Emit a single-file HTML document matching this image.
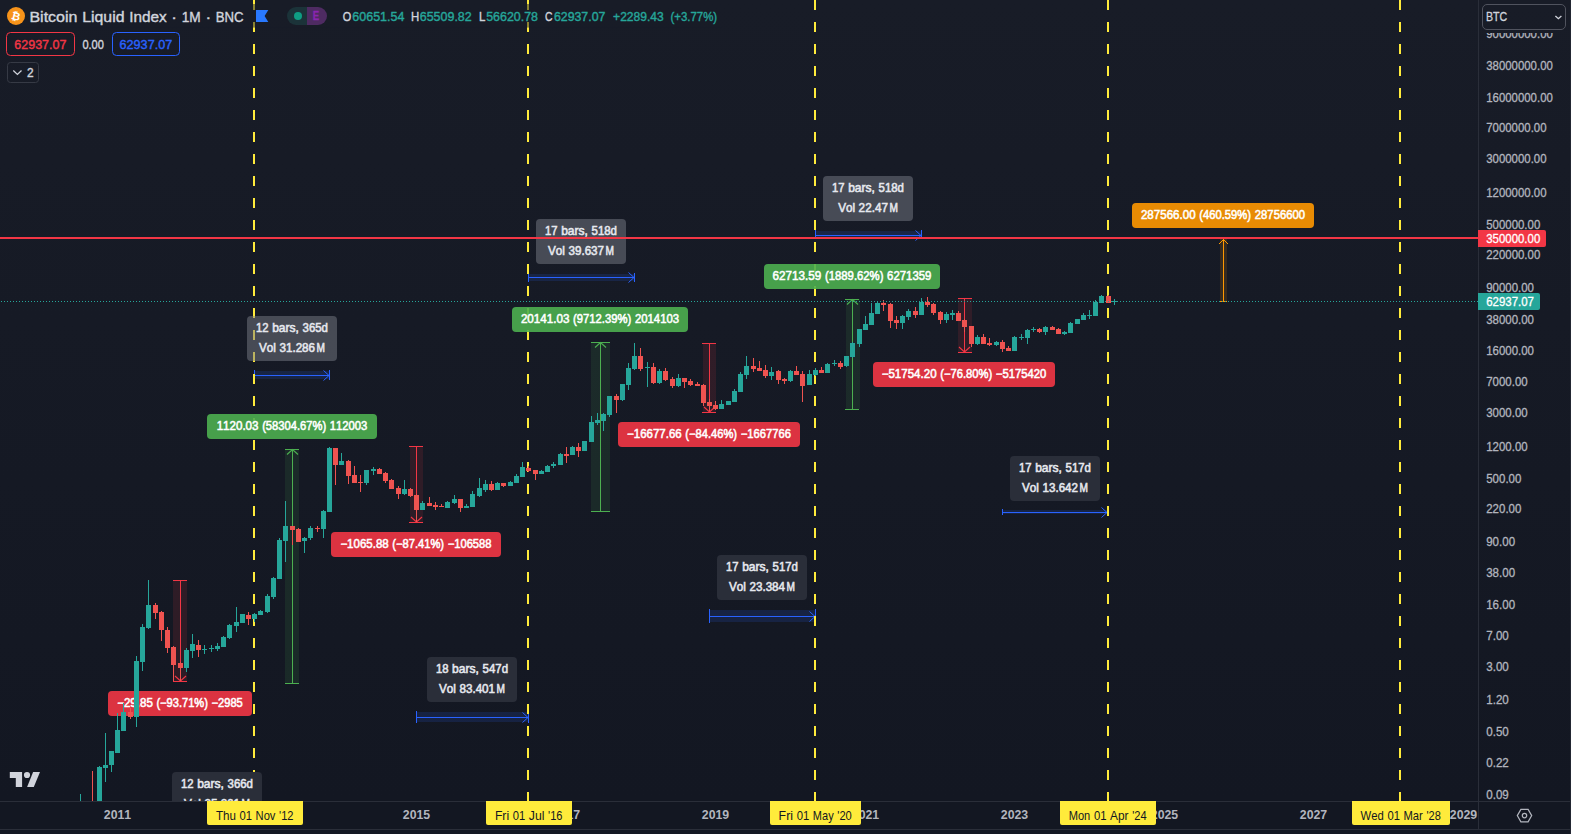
<!DOCTYPE html>
<html lang="en"><head><meta charset="utf-8"><title>Bitcoin Liquid Index chart</title>
<style>
html,body{margin:0;padding:0;background:#131722;}
body{width:1571px;height:834px;overflow:hidden;position:relative;font-family:"Liberation Sans", sans-serif;}
svg{position:absolute;left:0;top:0;display:block;font-family:"Liberation Sans", sans-serif;}
text{white-space:pre;font-kerning:none;}
</style></head><body>
<svg width="1571" height="834" viewBox="0 0 1571 834">
<defs><clipPath id="pane"><rect x="0" y="0" width="1478" height="801"/></clipPath><linearGradient id="bgg" gradientUnits="userSpaceOnUse" x1="0" y1="0" x2="0" y2="801"><stop offset="0" stop-color="#181c27"/><stop offset="1" stop-color="#131722"/></linearGradient></defs>
<rect x="0" y="0" width="1571" height="834" fill="#131722"/>
<rect x="0" y="0" width="1571" height="801" fill="url(#bgg)"/>
<g clip-path="url(#pane)">
<rect x="173" y="580" width="14" height="101" fill="#f23645" fill-opacity="0.12"/>
<g stroke="#f23645" stroke-width="1" fill="none">
<path d="M173 580.5H187M173 681.5H187M180.5 580V681"/>
<path stroke-width="1.1" d="M175.0 676L180.5 681L186.0 676"/>
</g>
<rect x="285" y="449" width="14" height="234" fill="#4caf50" fill-opacity="0.12"/>
<g stroke="#4caf50" stroke-width="1" fill="none">
<path d="M285 449.5H299M285 683.5H299M292.5 449V683"/>
<path stroke-width="1.1" d="M287.0 454.5L292.5 449.5L298.0 454.5"/>
</g>
<rect x="410" y="446" width="13" height="76" fill="#f23645" fill-opacity="0.12"/>
<g stroke="#f23645" stroke-width="1" fill="none">
<path d="M409 446.5H423M409 522.5H423M416.5 446V522"/>
<path stroke-width="1.1" d="M411.0 517L416.5 522L422.0 517"/>
</g>
<rect x="591" y="342" width="19" height="169" fill="#4caf50" fill-opacity="0.12"/>
<g stroke="#4caf50" stroke-width="1" fill="none">
<path d="M591 342.5H610M591 511.5H610M600.5 342V511"/>
<path stroke-width="1.1" d="M595.0 347.5L600.5 342.5L606.0 347.5"/>
</g>
<rect x="703" y="343" width="13" height="69" fill="#f23645" fill-opacity="0.12"/>
<g stroke="#f23645" stroke-width="1" fill="none">
<path d="M702 343.5H716M702 412.5H716M709.5 343V412"/>
<path stroke-width="1.1" d="M704.0 407L709.5 412L715.0 407"/>
</g>
<rect x="846" y="299" width="14" height="110" fill="#4caf50" fill-opacity="0.12"/>
<g stroke="#4caf50" stroke-width="1" fill="none">
<path d="M845 299.5H859M845 409.5H859M852.5 299V409"/>
<path stroke-width="1.1" d="M847.0 304.5L852.5 299.5L858.0 304.5"/>
</g>
<rect x="958" y="298" width="14" height="54" fill="#f23645" fill-opacity="0.12"/>
<g stroke="#f23645" stroke-width="1" fill="none">
<path d="M958 298.5H972M958 352.5H972M964.5 298V352"/>
<path stroke-width="1.1" d="M959.0 347L964.5 352L970.0 347"/>
</g>
<rect x="254" y="371" width="75" height="8" fill="#2962ff" fill-opacity="0.15"/>
<g stroke="#2962ff" stroke-width="1" fill="none"><path d="M254.5 370V380M329.5 370V380M254 375.5H329M323.5 370.5L329 375.5L323.5 380.5"/></g>
<rect x="416" y="712" width="112" height="10" fill="#2962ff" fill-opacity="0.15"/>
<g stroke="#2962ff" stroke-width="1" fill="none"><path d="M416.5 711V723M528.5 711V723M416 717.5H528M522.5 712.5L528 717.5L522.5 722.5"/></g>
<rect x="528" y="274" width="106" height="7" fill="#2962ff" fill-opacity="0.15"/>
<g stroke="#2962ff" stroke-width="1" fill="none"><path d="M528.5 273V282M634.5 273V282M528 277.5H634M628.5 272.5L634 277.5L628.5 282.5"/></g>
<rect x="709" y="610" width="106" height="12" fill="#2962ff" fill-opacity="0.15"/>
<g stroke="#2962ff" stroke-width="1" fill="none"><path d="M709.5 609V623M815.5 609V623M709 616.5H815M809.5 611.5L815 616.5L809.5 621.5"/></g>
<rect x="815" y="231" width="106" height="7" fill="#2962ff" fill-opacity="0.15"/>
<g stroke="#2962ff" stroke-width="1" fill="none"><path d="M815.5 230V239M921.5 230V239M815 235.5H921M915.5 230.5L921 235.5L915.5 240.5"/></g>
<rect x="1002" y="510" width="105" height="4" fill="#2962ff" fill-opacity="0.15"/>
<g stroke="#2962ff" stroke-width="1" fill="none"><path d="M1002.5 509V515M1107.5 509V515M1002 512.5H1107M1101.5 507.5L1107 512.5L1101.5 517.5"/></g>
<g fill="#ffeb3b" shape-rendering="crispEdges">
<rect x="253" y="0" width="2" height="10"/>
<rect x="253" y="22" width="2" height="10"/>
<rect x="253" y="44" width="2" height="10"/>
<rect x="253" y="66" width="2" height="10"/>
<rect x="253" y="88" width="2" height="10"/>
<rect x="253" y="110" width="2" height="10"/>
<rect x="253" y="132" width="2" height="10"/>
<rect x="253" y="154" width="2" height="10"/>
<rect x="253" y="176" width="2" height="10"/>
<rect x="253" y="198" width="2" height="10"/>
<rect x="253" y="220" width="2" height="10"/>
<rect x="253" y="242" width="2" height="10"/>
<rect x="253" y="264" width="2" height="10"/>
<rect x="253" y="286" width="2" height="10"/>
<rect x="253" y="308" width="2" height="10"/>
<rect x="253" y="330" width="2" height="10"/>
<rect x="253" y="352" width="2" height="10"/>
<rect x="253" y="374" width="2" height="10"/>
<rect x="253" y="396" width="2" height="10"/>
<rect x="253" y="418" width="2" height="10"/>
<rect x="253" y="440" width="2" height="10"/>
<rect x="253" y="462" width="2" height="10"/>
<rect x="253" y="484" width="2" height="10"/>
<rect x="253" y="506" width="2" height="10"/>
<rect x="253" y="528" width="2" height="10"/>
<rect x="253" y="550" width="2" height="10"/>
<rect x="253" y="572" width="2" height="10"/>
<rect x="253" y="594" width="2" height="10"/>
<rect x="253" y="616" width="2" height="10"/>
<rect x="253" y="638" width="2" height="10"/>
<rect x="253" y="660" width="2" height="10"/>
<rect x="253" y="682" width="2" height="10"/>
<rect x="253" y="704" width="2" height="10"/>
<rect x="253" y="726" width="2" height="10"/>
<rect x="253" y="748" width="2" height="10"/>
<rect x="253" y="770" width="2" height="10"/>
<rect x="253" y="792" width="2" height="10"/>
<rect x="527" y="0" width="2" height="10"/>
<rect x="527" y="22" width="2" height="10"/>
<rect x="527" y="44" width="2" height="10"/>
<rect x="527" y="66" width="2" height="10"/>
<rect x="527" y="88" width="2" height="10"/>
<rect x="527" y="110" width="2" height="10"/>
<rect x="527" y="132" width="2" height="10"/>
<rect x="527" y="154" width="2" height="10"/>
<rect x="527" y="176" width="2" height="10"/>
<rect x="527" y="198" width="2" height="10"/>
<rect x="527" y="220" width="2" height="10"/>
<rect x="527" y="242" width="2" height="10"/>
<rect x="527" y="264" width="2" height="10"/>
<rect x="527" y="286" width="2" height="10"/>
<rect x="527" y="308" width="2" height="10"/>
<rect x="527" y="330" width="2" height="10"/>
<rect x="527" y="352" width="2" height="10"/>
<rect x="527" y="374" width="2" height="10"/>
<rect x="527" y="396" width="2" height="10"/>
<rect x="527" y="418" width="2" height="10"/>
<rect x="527" y="440" width="2" height="10"/>
<rect x="527" y="462" width="2" height="10"/>
<rect x="527" y="484" width="2" height="10"/>
<rect x="527" y="506" width="2" height="10"/>
<rect x="527" y="528" width="2" height="10"/>
<rect x="527" y="550" width="2" height="10"/>
<rect x="527" y="572" width="2" height="10"/>
<rect x="527" y="594" width="2" height="10"/>
<rect x="527" y="616" width="2" height="10"/>
<rect x="527" y="638" width="2" height="10"/>
<rect x="527" y="660" width="2" height="10"/>
<rect x="527" y="682" width="2" height="10"/>
<rect x="527" y="704" width="2" height="10"/>
<rect x="527" y="726" width="2" height="10"/>
<rect x="527" y="748" width="2" height="10"/>
<rect x="527" y="770" width="2" height="10"/>
<rect x="527" y="792" width="2" height="10"/>
<rect x="814" y="0" width="2" height="10"/>
<rect x="814" y="22" width="2" height="10"/>
<rect x="814" y="44" width="2" height="10"/>
<rect x="814" y="66" width="2" height="10"/>
<rect x="814" y="88" width="2" height="10"/>
<rect x="814" y="110" width="2" height="10"/>
<rect x="814" y="132" width="2" height="10"/>
<rect x="814" y="154" width="2" height="10"/>
<rect x="814" y="176" width="2" height="10"/>
<rect x="814" y="198" width="2" height="10"/>
<rect x="814" y="220" width="2" height="10"/>
<rect x="814" y="242" width="2" height="10"/>
<rect x="814" y="264" width="2" height="10"/>
<rect x="814" y="286" width="2" height="10"/>
<rect x="814" y="308" width="2" height="10"/>
<rect x="814" y="330" width="2" height="10"/>
<rect x="814" y="352" width="2" height="10"/>
<rect x="814" y="374" width="2" height="10"/>
<rect x="814" y="396" width="2" height="10"/>
<rect x="814" y="418" width="2" height="10"/>
<rect x="814" y="440" width="2" height="10"/>
<rect x="814" y="462" width="2" height="10"/>
<rect x="814" y="484" width="2" height="10"/>
<rect x="814" y="506" width="2" height="10"/>
<rect x="814" y="528" width="2" height="10"/>
<rect x="814" y="550" width="2" height="10"/>
<rect x="814" y="572" width="2" height="10"/>
<rect x="814" y="594" width="2" height="10"/>
<rect x="814" y="616" width="2" height="10"/>
<rect x="814" y="638" width="2" height="10"/>
<rect x="814" y="660" width="2" height="10"/>
<rect x="814" y="682" width="2" height="10"/>
<rect x="814" y="704" width="2" height="10"/>
<rect x="814" y="726" width="2" height="10"/>
<rect x="814" y="748" width="2" height="10"/>
<rect x="814" y="770" width="2" height="10"/>
<rect x="814" y="792" width="2" height="10"/>
<rect x="1107" y="0" width="2" height="10"/>
<rect x="1107" y="22" width="2" height="10"/>
<rect x="1107" y="44" width="2" height="10"/>
<rect x="1107" y="66" width="2" height="10"/>
<rect x="1107" y="88" width="2" height="10"/>
<rect x="1107" y="110" width="2" height="10"/>
<rect x="1107" y="132" width="2" height="10"/>
<rect x="1107" y="154" width="2" height="10"/>
<rect x="1107" y="176" width="2" height="10"/>
<rect x="1107" y="198" width="2" height="10"/>
<rect x="1107" y="220" width="2" height="10"/>
<rect x="1107" y="242" width="2" height="10"/>
<rect x="1107" y="264" width="2" height="10"/>
<rect x="1107" y="286" width="2" height="10"/>
<rect x="1107" y="308" width="2" height="10"/>
<rect x="1107" y="330" width="2" height="10"/>
<rect x="1107" y="352" width="2" height="10"/>
<rect x="1107" y="374" width="2" height="10"/>
<rect x="1107" y="396" width="2" height="10"/>
<rect x="1107" y="418" width="2" height="10"/>
<rect x="1107" y="440" width="2" height="10"/>
<rect x="1107" y="462" width="2" height="10"/>
<rect x="1107" y="484" width="2" height="10"/>
<rect x="1107" y="506" width="2" height="10"/>
<rect x="1107" y="528" width="2" height="10"/>
<rect x="1107" y="550" width="2" height="10"/>
<rect x="1107" y="572" width="2" height="10"/>
<rect x="1107" y="594" width="2" height="10"/>
<rect x="1107" y="616" width="2" height="10"/>
<rect x="1107" y="638" width="2" height="10"/>
<rect x="1107" y="660" width="2" height="10"/>
<rect x="1107" y="682" width="2" height="10"/>
<rect x="1107" y="704" width="2" height="10"/>
<rect x="1107" y="726" width="2" height="10"/>
<rect x="1107" y="748" width="2" height="10"/>
<rect x="1107" y="770" width="2" height="10"/>
<rect x="1107" y="792" width="2" height="10"/>
<rect x="1399" y="0" width="2" height="10"/>
<rect x="1399" y="22" width="2" height="10"/>
<rect x="1399" y="44" width="2" height="10"/>
<rect x="1399" y="66" width="2" height="10"/>
<rect x="1399" y="88" width="2" height="10"/>
<rect x="1399" y="110" width="2" height="10"/>
<rect x="1399" y="132" width="2" height="10"/>
<rect x="1399" y="154" width="2" height="10"/>
<rect x="1399" y="176" width="2" height="10"/>
<rect x="1399" y="198" width="2" height="10"/>
<rect x="1399" y="220" width="2" height="10"/>
<rect x="1399" y="242" width="2" height="10"/>
<rect x="1399" y="264" width="2" height="10"/>
<rect x="1399" y="286" width="2" height="10"/>
<rect x="1399" y="308" width="2" height="10"/>
<rect x="1399" y="330" width="2" height="10"/>
<rect x="1399" y="352" width="2" height="10"/>
<rect x="1399" y="374" width="2" height="10"/>
<rect x="1399" y="396" width="2" height="10"/>
<rect x="1399" y="418" width="2" height="10"/>
<rect x="1399" y="440" width="2" height="10"/>
<rect x="1399" y="462" width="2" height="10"/>
<rect x="1399" y="484" width="2" height="10"/>
<rect x="1399" y="506" width="2" height="10"/>
<rect x="1399" y="528" width="2" height="10"/>
<rect x="1399" y="550" width="2" height="10"/>
<rect x="1399" y="572" width="2" height="10"/>
<rect x="1399" y="594" width="2" height="10"/>
<rect x="1399" y="616" width="2" height="10"/>
<rect x="1399" y="638" width="2" height="10"/>
<rect x="1399" y="660" width="2" height="10"/>
<rect x="1399" y="682" width="2" height="10"/>
<rect x="1399" y="704" width="2" height="10"/>
<rect x="1399" y="726" width="2" height="10"/>
<rect x="1399" y="748" width="2" height="10"/>
<rect x="1399" y="770" width="2" height="10"/>
<rect x="1399" y="792" width="2" height="10"/>
</g>
<rect x="172" y="772" width="90" height="45" rx="4" fill="#2a2e39"/>
<g font-size="12" fill="#e6e8ee" font-weight="400" stroke="#e6e8ee" stroke-width="0.55"><text transform="translate(181.05 787.6) scale(0.9374 1)">12</text><text transform="translate(197.16 787.6) scale(1.0038 1)">bars,</text><text transform="translate(227.53 787.6) scale(0.9522 1)">366d</text></g>
<g font-size="12" fill="#e6e8ee" font-weight="400" stroke="#e6e8ee" stroke-width="0.55"><text transform="translate(184.00 807.6) scale(0.9745 1)">Vol</text><text transform="translate(204.49 807.6) scale(0.9694 1)">35.261</text><text transform="translate(241.55 807.6) scale(0.8448 1)">M</text></g>
<rect x="247" y="316" width="90" height="45" rx="4" fill="#787b86" fill-opacity="0.5"/>
<g font-size="12" fill="#e6e8ee" font-weight="400" stroke="#e6e8ee" stroke-width="0.55"><text transform="translate(256.05 331.6) scale(0.9374 1)">12</text><text transform="translate(272.16 331.6) scale(1.0038 1)">bars,</text><text transform="translate(302.53 331.6) scale(0.9522 1)">365d</text></g>
<g font-size="12" fill="#e6e8ee" font-weight="400" stroke="#e6e8ee" stroke-width="0.55"><text transform="translate(259.00 351.6) scale(0.9745 1)">Vol</text><text transform="translate(279.49 351.6) scale(0.9694 1)">31.286</text><text transform="translate(316.55 351.6) scale(0.8448 1)">M</text></g>
<rect x="427" y="657" width="90" height="45" rx="4" fill="#2a2e39"/>
<g font-size="12" fill="#e6e8ee" font-weight="400" stroke="#e6e8ee" stroke-width="0.55"><text transform="translate(435.95 672.6) scale(0.9400 1)">18</text><text transform="translate(452.10 672.6) scale(1.0066 1)">bars,</text><text transform="translate(482.56 672.6) scale(0.9549 1)">547d</text></g>
<g font-size="12" fill="#e6e8ee" font-weight="400" stroke="#e6e8ee" stroke-width="0.55"><text transform="translate(439.00 692.6) scale(0.9745 1)">Vol</text><text transform="translate(459.49 692.6) scale(0.9694 1)">83.401</text><text transform="translate(496.55 692.6) scale(0.8448 1)">M</text></g>
<rect x="536" y="219" width="90" height="45" rx="4" fill="#787b86" fill-opacity="0.5"/>
<g font-size="12" fill="#e6e8ee" font-weight="400" stroke="#e6e8ee" stroke-width="0.55"><text transform="translate(545.05 234.6) scale(0.9374 1)">17</text><text transform="translate(561.16 234.6) scale(1.0038 1)">bars,</text><text transform="translate(591.53 234.6) scale(0.9522 1)">518d</text></g>
<g font-size="12" fill="#e6e8ee" font-weight="400" stroke="#e6e8ee" stroke-width="0.55"><text transform="translate(548.00 254.6) scale(0.9745 1)">Vol</text><text transform="translate(568.49 254.6) scale(0.9694 1)">39.637</text><text transform="translate(605.55 254.6) scale(0.8448 1)">M</text></g>
<rect x="717" y="555" width="90" height="45" rx="4" fill="#2a2e39"/>
<g font-size="12" fill="#e6e8ee" font-weight="400" stroke="#e6e8ee" stroke-width="0.55"><text transform="translate(726.05 570.6) scale(0.9374 1)">17</text><text transform="translate(742.16 570.6) scale(1.0038 1)">bars,</text><text transform="translate(772.53 570.6) scale(0.9522 1)">517d</text></g>
<g font-size="12" fill="#e6e8ee" font-weight="400" stroke="#e6e8ee" stroke-width="0.55"><text transform="translate(729.00 590.6) scale(0.9745 1)">Vol</text><text transform="translate(749.49 590.6) scale(0.9694 1)">23.384</text><text transform="translate(786.55 590.6) scale(0.8448 1)">M</text></g>
<rect x="823" y="176" width="90" height="45" rx="4" fill="#787b86" fill-opacity="0.5"/>
<g font-size="12" fill="#e6e8ee" font-weight="400" stroke="#e6e8ee" stroke-width="0.55"><text transform="translate(832.05 191.6) scale(0.9374 1)">17</text><text transform="translate(848.16 191.6) scale(1.0038 1)">bars,</text><text transform="translate(878.53 191.6) scale(0.9522 1)">518d</text></g>
<g font-size="12" fill="#e6e8ee" font-weight="400" stroke="#e6e8ee" stroke-width="0.55"><text transform="translate(838.15 211.6) scale(0.9736 1)">Vol</text><text transform="translate(858.62 211.6) scale(0.9760 1)">22.47</text><text transform="translate(889.41 211.6) scale(0.8440 1)">M</text></g>
<rect x="1010" y="456" width="90" height="45" rx="4" fill="#2a2e39"/>
<g font-size="12" fill="#e6e8ee" font-weight="400" stroke="#e6e8ee" stroke-width="0.55"><text transform="translate(1019.05 471.6) scale(0.9374 1)">17</text><text transform="translate(1035.16 471.6) scale(1.0038 1)">bars,</text><text transform="translate(1065.53 471.6) scale(0.9522 1)">517d</text></g>
<g font-size="12" fill="#e6e8ee" font-weight="400" stroke="#e6e8ee" stroke-width="0.55"><text transform="translate(1022.00 491.6) scale(0.9745 1)">Vol</text><text transform="translate(1042.49 491.6) scale(0.9694 1)">13.642</text><text transform="translate(1079.55 491.6) scale(0.8448 1)">M</text></g>
<rect x="0" y="237" width="1478" height="2" fill="#f23645" shape-rendering="crispEdges"/>
<rect x="1220" y="239" width="7" height="62" fill="#ff9800" fill-opacity="0.14"/>
<g stroke="#ff9800" stroke-width="1" fill="none"><path d="M1223.5 239V301M1220 301.5H1227M1219 244L1223.5 239.5L1228 244"/></g>
<rect x="108" y="691" width="144" height="25" rx="4" fill="#f23645" fill-opacity="0.9"/>
<g font-size="12" fill="#ffffff" font-weight="400" stroke="#ffffff" stroke-width="0.55"><text transform="translate(117.20 706.6) scale(0.9620 1)">−29.85</text><text transform="translate(156.42 706.6) scale(0.9253 1)">(−93.71%)</text><text transform="translate(211.55 706.6) scale(0.9272 1)">−2985</text></g>
<rect x="207" y="414" width="170" height="25" rx="4" fill="#4caf50" fill-opacity="0.9"/>
<g font-size="12" fill="#ffffff" font-weight="400" stroke="#ffffff" stroke-width="0.55"><text transform="translate(216.65 429.6) scale(0.9661 1)">1120.03</text><text transform="translate(262.15 429.6) scale(0.9326 1)">(58304.67%)</text><text transform="translate(329.82 429.6) scale(0.9371 1)">112003</text></g>
<rect x="331" y="532" width="170" height="25" rx="4" fill="#f23645" fill-opacity="0.9"/>
<g font-size="12" fill="#ffffff" font-weight="400" stroke="#ffffff" stroke-width="0.55"><text transform="translate(340.40 547.6) scale(0.9590 1)">−1065.88</text><text transform="translate(392.32 547.6) scale(0.9290 1)">(−87.41%)</text><text transform="translate(447.67 547.6) scale(0.9336 1)">−106588</text></g>
<rect x="512" y="307" width="176" height="25" rx="4" fill="#4caf50" fill-opacity="0.9"/>
<g font-size="12" fill="#ffffff" font-weight="400" stroke="#ffffff" stroke-width="0.55"><text transform="translate(520.90 322.6) scale(0.9699 1)">20141.03</text><text transform="translate(573.06 322.6) scale(0.9395 1)">(9712.39%)</text><text transform="translate(634.97 322.6) scale(0.9446 1)">2014103</text></g>
<rect x="618" y="422" width="182" height="25" rx="4" fill="#f23645" fill-opacity="0.9"/>
<g font-size="12" fill="#ffffff" font-weight="400" stroke="#ffffff" stroke-width="0.55"><text transform="translate(627.10 437.6) scale(0.9571 1)">−16677.66</text><text transform="translate(685.32 437.6) scale(0.9293 1)">(−84.46%)</text><text transform="translate(740.68 437.6) scale(0.9347 1)">−1667766</text></g>
<rect x="764" y="264" width="176" height="25" rx="4" fill="#4caf50" fill-opacity="0.9"/>
<g font-size="12" fill="#ffffff" font-weight="400" stroke="#ffffff" stroke-width="0.55"><text transform="translate(772.60 279.6) scale(0.9735 1)">62713.59</text><text transform="translate(824.96 279.6) scale(0.9431 1)">(1889.62%)</text><text transform="translate(887.11 279.6) scale(0.9482 1)">6271359</text></g>
<rect x="873" y="362" width="182" height="25" rx="4" fill="#f23645" fill-opacity="0.9"/>
<g font-size="12" fill="#ffffff" font-weight="400" stroke="#ffffff" stroke-width="0.55"><text transform="translate(881.70 377.6) scale(0.9618 1)">−51754.20</text><text transform="translate(940.20 377.6) scale(0.9338 1)">(−76.80%)</text><text transform="translate(995.84 377.6) scale(0.9393 1)">−5175420</text></g>
<rect x="1132" y="203" width="182" height="25" rx="4" fill="#ff9800" fill-opacity="0.9"/>
<g font-size="12" fill="#ffffff" font-weight="400" stroke="#ffffff" stroke-width="0.55"><text transform="translate(1140.90 218.6) scale(0.9651 1)">287566.00</text><text transform="translate(1199.26 218.6) scale(0.9372 1)">(460.59%)</text><text transform="translate(1254.76 218.6) scale(0.9428 1)">28756600</text></g>
<g shape-rendering="crispEdges">
<rect x="80" y="794" width="1" height="7" fill="#26a69a"/>
<rect x="78" y="801" width="5" height="1" fill="#26a69a"/>
<rect x="92" y="771" width="1" height="39" fill="#ef5350"/>
<rect x="90" y="805" width="5" height="5" fill="#ef5350"/>
<rect x="99" y="766" width="1" height="44" fill="#26a69a"/>
<rect x="97" y="767" width="5" height="43" fill="#26a69a"/>
<rect x="105" y="733" width="1" height="49" fill="#26a69a"/>
<rect x="103" y="765" width="5" height="3" fill="#26a69a"/>
<rect x="111" y="751" width="1" height="21" fill="#26a69a"/>
<rect x="109" y="751" width="5" height="14" fill="#26a69a"/>
<rect x="117" y="713" width="1" height="40" fill="#26a69a"/>
<rect x="115" y="730" width="5" height="23" fill="#26a69a"/>
<rect x="123" y="703" width="1" height="28" fill="#26a69a"/>
<rect x="121" y="712" width="5" height="19" fill="#26a69a"/>
<rect x="130" y="708" width="1" height="11" fill="#ef5350"/>
<rect x="128" y="712" width="5" height="5" fill="#ef5350"/>
<rect x="136" y="656" width="1" height="71" fill="#26a69a"/>
<rect x="134" y="661" width="5" height="56" fill="#26a69a"/>
<rect x="142" y="624" width="1" height="47" fill="#26a69a"/>
<rect x="140" y="627" width="5" height="35" fill="#26a69a"/>
<rect x="148" y="580" width="1" height="49" fill="#26a69a"/>
<rect x="146" y="605" width="5" height="23" fill="#26a69a"/>
<rect x="155" y="603" width="1" height="16" fill="#ef5350"/>
<rect x="153" y="605" width="5" height="8" fill="#ef5350"/>
<rect x="161" y="611" width="1" height="30" fill="#ef5350"/>
<rect x="159" y="612" width="5" height="18" fill="#ef5350"/>
<rect x="167" y="627" width="1" height="26" fill="#ef5350"/>
<rect x="165" y="630" width="5" height="18" fill="#ef5350"/>
<rect x="173" y="646" width="1" height="35" fill="#ef5350"/>
<rect x="171" y="647" width="5" height="18" fill="#ef5350"/>
<rect x="180" y="662" width="1" height="19" fill="#ef5350"/>
<rect x="178" y="663" width="5" height="5" fill="#ef5350"/>
<rect x="186" y="648" width="1" height="24" fill="#26a69a"/>
<rect x="184" y="650" width="5" height="18" fill="#26a69a"/>
<rect x="192" y="634" width="1" height="24" fill="#26a69a"/>
<rect x="190" y="644" width="5" height="7" fill="#26a69a"/>
<rect x="198" y="640" width="1" height="17" fill="#ef5350"/>
<rect x="196" y="645" width="5" height="5" fill="#ef5350"/>
<rect x="204" y="645" width="1" height="9" fill="#26a69a"/>
<rect x="202" y="649" width="5" height="1" fill="#26a69a"/>
<rect x="211" y="645" width="1" height="7" fill="#26a69a"/>
<rect x="209" y="648" width="5" height="1" fill="#26a69a"/>
<rect x="217" y="643" width="1" height="8" fill="#26a69a"/>
<rect x="215" y="646" width="5" height="3" fill="#26a69a"/>
<rect x="223" y="636" width="1" height="11" fill="#26a69a"/>
<rect x="221" y="637" width="5" height="10" fill="#26a69a"/>
<rect x="229" y="624" width="1" height="15" fill="#26a69a"/>
<rect x="227" y="625" width="5" height="13" fill="#26a69a"/>
<rect x="236" y="607" width="1" height="25" fill="#26a69a"/>
<rect x="234" y="622" width="5" height="4" fill="#26a69a"/>
<rect x="242" y="614" width="1" height="9" fill="#26a69a"/>
<rect x="240" y="614" width="5" height="9" fill="#26a69a"/>
<rect x="248" y="612" width="1" height="13" fill="#ef5350"/>
<rect x="246" y="615" width="5" height="4" fill="#ef5350"/>
<rect x="254" y="613" width="1" height="9" fill="#26a69a"/>
<rect x="252" y="614" width="5" height="5" fill="#26a69a"/>
<rect x="260" y="610" width="1" height="5" fill="#26a69a"/>
<rect x="258" y="611" width="5" height="4" fill="#26a69a"/>
<rect x="267" y="594" width="1" height="19" fill="#26a69a"/>
<rect x="265" y="596" width="5" height="16" fill="#26a69a"/>
<rect x="273" y="577" width="1" height="22" fill="#26a69a"/>
<rect x="271" y="578" width="5" height="19" fill="#26a69a"/>
<rect x="279" y="538" width="1" height="41" fill="#26a69a"/>
<rect x="277" y="540" width="5" height="39" fill="#26a69a"/>
<rect x="285" y="501" width="1" height="61" fill="#26a69a"/>
<rect x="283" y="526" width="5" height="15" fill="#26a69a"/>
<rect x="292" y="526" width="1" height="19" fill="#ef5350"/>
<rect x="290" y="526" width="5" height="4" fill="#ef5350"/>
<rect x="298" y="528" width="1" height="14" fill="#ef5350"/>
<rect x="296" y="529" width="5" height="13" fill="#ef5350"/>
<rect x="304" y="537" width="1" height="16" fill="#26a69a"/>
<rect x="302" y="538" width="5" height="3" fill="#26a69a"/>
<rect x="310" y="526" width="1" height="14" fill="#26a69a"/>
<rect x="308" y="528" width="5" height="10" fill="#26a69a"/>
<rect x="317" y="526" width="1" height="6" fill="#ef5350"/>
<rect x="315" y="528" width="5" height="1" fill="#ef5350"/>
<rect x="323" y="510" width="1" height="28" fill="#26a69a"/>
<rect x="321" y="511" width="5" height="18" fill="#26a69a"/>
<rect x="329" y="447" width="1" height="65" fill="#26a69a"/>
<rect x="327" y="448" width="5" height="64" fill="#26a69a"/>
<rect x="335" y="448" width="1" height="37" fill="#ef5350"/>
<rect x="333" y="448" width="5" height="17" fill="#ef5350"/>
<rect x="341" y="453" width="1" height="12" fill="#26a69a"/>
<rect x="339" y="461" width="5" height="4" fill="#26a69a"/>
<rect x="348" y="460" width="1" height="24" fill="#ef5350"/>
<rect x="346" y="461" width="5" height="15" fill="#ef5350"/>
<rect x="354" y="466" width="1" height="17" fill="#ef5350"/>
<rect x="352" y="475" width="5" height="8" fill="#ef5350"/>
<rect x="360" y="475" width="1" height="17" fill="#ef5350"/>
<rect x="358" y="482" width="5" height="1" fill="#ef5350"/>
<rect x="366" y="470" width="1" height="15" fill="#26a69a"/>
<rect x="364" y="470" width="5" height="13" fill="#26a69a"/>
<rect x="373" y="467" width="1" height="8" fill="#26a69a"/>
<rect x="371" y="469" width="5" height="2" fill="#26a69a"/>
<rect x="379" y="468" width="1" height="6" fill="#ef5350"/>
<rect x="377" y="469" width="5" height="5" fill="#ef5350"/>
<rect x="385" y="472" width="1" height="11" fill="#ef5350"/>
<rect x="383" y="473" width="5" height="8" fill="#ef5350"/>
<rect x="391" y="479" width="1" height="10" fill="#ef5350"/>
<rect x="389" y="480" width="5" height="9" fill="#ef5350"/>
<rect x="398" y="486" width="1" height="13" fill="#ef5350"/>
<rect x="396" y="488" width="5" height="6" fill="#ef5350"/>
<rect x="404" y="480" width="1" height="15" fill="#26a69a"/>
<rect x="402" y="489" width="5" height="5" fill="#26a69a"/>
<rect x="410" y="488" width="1" height="9" fill="#ef5350"/>
<rect x="408" y="489" width="5" height="7" fill="#ef5350"/>
<rect x="416" y="494" width="1" height="28" fill="#ef5350"/>
<rect x="414" y="495" width="5" height="15" fill="#ef5350"/>
<rect x="422" y="501" width="1" height="9" fill="#26a69a"/>
<rect x="420" y="503" width="5" height="7" fill="#26a69a"/>
<rect x="429" y="497" width="1" height="9" fill="#ef5350"/>
<rect x="427" y="503" width="5" height="3" fill="#ef5350"/>
<rect x="435" y="502" width="1" height="8" fill="#ef5350"/>
<rect x="433" y="505" width="5" height="2" fill="#ef5350"/>
<rect x="441" y="504" width="1" height="3" fill="#ef5350"/>
<rect x="439" y="506" width="5" height="1" fill="#ef5350"/>
<rect x="447" y="501" width="1" height="7" fill="#26a69a"/>
<rect x="445" y="502" width="5" height="6" fill="#26a69a"/>
<rect x="454" y="495" width="1" height="9" fill="#26a69a"/>
<rect x="452" y="499" width="5" height="4" fill="#26a69a"/>
<rect x="460" y="499" width="1" height="13" fill="#ef5350"/>
<rect x="458" y="499" width="5" height="9" fill="#ef5350"/>
<rect x="466" y="504" width="1" height="4" fill="#26a69a"/>
<rect x="464" y="506" width="5" height="2" fill="#26a69a"/>
<rect x="472" y="491" width="1" height="16" fill="#26a69a"/>
<rect x="470" y="494" width="5" height="13" fill="#26a69a"/>
<rect x="479" y="478" width="1" height="19" fill="#26a69a"/>
<rect x="477" y="488" width="5" height="8" fill="#26a69a"/>
<rect x="485" y="480" width="1" height="12" fill="#26a69a"/>
<rect x="483" y="484" width="5" height="6" fill="#26a69a"/>
<rect x="491" y="481" width="1" height="10" fill="#ef5350"/>
<rect x="489" y="484" width="5" height="6" fill="#ef5350"/>
<rect x="497" y="482" width="1" height="8" fill="#26a69a"/>
<rect x="495" y="483" width="5" height="7" fill="#26a69a"/>
<rect x="503" y="483" width="1" height="4" fill="#ef5350"/>
<rect x="501" y="483" width="5" height="3" fill="#ef5350"/>
<rect x="510" y="481" width="1" height="5" fill="#26a69a"/>
<rect x="508" y="482" width="5" height="4" fill="#26a69a"/>
<rect x="516" y="474" width="1" height="9" fill="#26a69a"/>
<rect x="514" y="476" width="5" height="7" fill="#26a69a"/>
<rect x="522" y="462" width="1" height="15" fill="#26a69a"/>
<rect x="520" y="467" width="5" height="10" fill="#26a69a"/>
<rect x="528" y="466" width="1" height="6" fill="#ef5350"/>
<rect x="526" y="468" width="5" height="3" fill="#ef5350"/>
<rect x="535" y="470" width="1" height="10" fill="#ef5350"/>
<rect x="533" y="470" width="5" height="4" fill="#ef5350"/>
<rect x="541" y="470" width="1" height="4" fill="#26a69a"/>
<rect x="539" y="471" width="5" height="3" fill="#26a69a"/>
<rect x="547" y="465" width="1" height="7" fill="#26a69a"/>
<rect x="545" y="466" width="5" height="6" fill="#26a69a"/>
<rect x="553" y="462" width="1" height="6" fill="#26a69a"/>
<rect x="551" y="464" width="5" height="2" fill="#26a69a"/>
<rect x="560" y="453" width="1" height="12" fill="#26a69a"/>
<rect x="558" y="454" width="5" height="11" fill="#26a69a"/>
<rect x="566" y="447" width="1" height="16" fill="#ef5350"/>
<rect x="564" y="454" width="5" height="2" fill="#ef5350"/>
<rect x="572" y="446" width="1" height="9" fill="#26a69a"/>
<rect x="570" y="447" width="5" height="8" fill="#26a69a"/>
<rect x="578" y="443" width="1" height="14" fill="#ef5350"/>
<rect x="576" y="447" width="5" height="4" fill="#ef5350"/>
<rect x="584" y="441" width="1" height="10" fill="#26a69a"/>
<rect x="582" y="441" width="5" height="10" fill="#26a69a"/>
<rect x="591" y="416" width="1" height="26" fill="#26a69a"/>
<rect x="589" y="422" width="5" height="20" fill="#26a69a"/>
<rect x="597" y="413" width="1" height="12" fill="#26a69a"/>
<rect x="595" y="420" width="5" height="3" fill="#26a69a"/>
<rect x="603" y="413" width="1" height="18" fill="#26a69a"/>
<rect x="601" y="414" width="5" height="7" fill="#26a69a"/>
<rect x="609" y="396" width="1" height="21" fill="#26a69a"/>
<rect x="607" y="396" width="5" height="19" fill="#26a69a"/>
<rect x="616" y="394" width="1" height="19" fill="#ef5350"/>
<rect x="614" y="396" width="5" height="4" fill="#ef5350"/>
<rect x="622" y="384" width="1" height="17" fill="#26a69a"/>
<rect x="620" y="384" width="5" height="16" fill="#26a69a"/>
<rect x="628" y="363" width="1" height="27" fill="#26a69a"/>
<rect x="626" y="368" width="5" height="17" fill="#26a69a"/>
<rect x="634" y="343" width="1" height="27" fill="#26a69a"/>
<rect x="632" y="356" width="5" height="13" fill="#26a69a"/>
<rect x="640" y="348" width="1" height="23" fill="#ef5350"/>
<rect x="638" y="356" width="5" height="13" fill="#ef5350"/>
<rect x="647" y="362" width="1" height="25" fill="#26a69a"/>
<rect x="645" y="367" width="5" height="1" fill="#26a69a"/>
<rect x="653" y="363" width="1" height="21" fill="#ef5350"/>
<rect x="651" y="367" width="5" height="16" fill="#ef5350"/>
<rect x="659" y="369" width="1" height="15" fill="#26a69a"/>
<rect x="657" y="371" width="5" height="12" fill="#26a69a"/>
<rect x="665" y="368" width="1" height="13" fill="#ef5350"/>
<rect x="663" y="371" width="5" height="9" fill="#ef5350"/>
<rect x="672" y="377" width="1" height="11" fill="#ef5350"/>
<rect x="670" y="379" width="5" height="7" fill="#ef5350"/>
<rect x="678" y="374" width="1" height="13" fill="#26a69a"/>
<rect x="676" y="378" width="5" height="8" fill="#26a69a"/>
<rect x="684" y="378" width="1" height="10" fill="#ef5350"/>
<rect x="682" y="378" width="5" height="4" fill="#ef5350"/>
<rect x="690" y="379" width="1" height="7" fill="#ef5350"/>
<rect x="688" y="381" width="5" height="4" fill="#ef5350"/>
<rect x="697" y="382" width="1" height="4" fill="#ef5350"/>
<rect x="695" y="384" width="5" height="2" fill="#ef5350"/>
<rect x="703" y="384" width="1" height="22" fill="#ef5350"/>
<rect x="701" y="385" width="5" height="18" fill="#ef5350"/>
<rect x="709" y="399" width="1" height="12" fill="#ef5350"/>
<rect x="707" y="402" width="5" height="4" fill="#ef5350"/>
<rect x="715" y="401" width="1" height="9" fill="#ef5350"/>
<rect x="713" y="405" width="5" height="4" fill="#ef5350"/>
<rect x="721" y="400" width="1" height="9" fill="#26a69a"/>
<rect x="719" y="404" width="5" height="5" fill="#26a69a"/>
<rect x="728" y="401" width="1" height="4" fill="#26a69a"/>
<rect x="726" y="401" width="5" height="4" fill="#26a69a"/>
<rect x="734" y="389" width="1" height="13" fill="#26a69a"/>
<rect x="732" y="391" width="5" height="11" fill="#26a69a"/>
<rect x="740" y="372" width="1" height="20" fill="#26a69a"/>
<rect x="738" y="374" width="5" height="18" fill="#26a69a"/>
<rect x="746" y="356" width="1" height="23" fill="#26a69a"/>
<rect x="744" y="366" width="5" height="9" fill="#26a69a"/>
<rect x="753" y="358" width="1" height="14" fill="#ef5350"/>
<rect x="751" y="366" width="5" height="3" fill="#ef5350"/>
<rect x="759" y="361" width="1" height="10" fill="#ef5350"/>
<rect x="757" y="368" width="5" height="3" fill="#ef5350"/>
<rect x="765" y="365" width="1" height="13" fill="#ef5350"/>
<rect x="763" y="370" width="5" height="6" fill="#ef5350"/>
<rect x="771" y="367" width="1" height="13" fill="#26a69a"/>
<rect x="769" y="372" width="5" height="4" fill="#26a69a"/>
<rect x="778" y="370" width="1" height="14" fill="#ef5350"/>
<rect x="776" y="371" width="5" height="9" fill="#ef5350"/>
<rect x="784" y="378" width="1" height="6" fill="#ef5350"/>
<rect x="782" y="379" width="5" height="2" fill="#ef5350"/>
<rect x="790" y="370" width="1" height="12" fill="#26a69a"/>
<rect x="788" y="371" width="5" height="10" fill="#26a69a"/>
<rect x="796" y="366" width="1" height="9" fill="#ef5350"/>
<rect x="794" y="371" width="5" height="4" fill="#ef5350"/>
<rect x="802" y="371" width="1" height="31" fill="#ef5350"/>
<rect x="800" y="374" width="5" height="12" fill="#ef5350"/>
<rect x="809" y="370" width="1" height="15" fill="#26a69a"/>
<rect x="807" y="374" width="5" height="11" fill="#26a69a"/>
<rect x="815" y="368" width="1" height="8" fill="#26a69a"/>
<rect x="813" y="370" width="5" height="5" fill="#26a69a"/>
<rect x="821" y="367" width="1" height="6" fill="#ef5350"/>
<rect x="819" y="370" width="5" height="3" fill="#ef5350"/>
<rect x="827" y="363" width="1" height="10" fill="#26a69a"/>
<rect x="825" y="364" width="5" height="9" fill="#26a69a"/>
<rect x="834" y="360" width="1" height="6" fill="#26a69a"/>
<rect x="832" y="363" width="5" height="1" fill="#26a69a"/>
<rect x="840" y="361" width="1" height="8" fill="#ef5350"/>
<rect x="838" y="363" width="5" height="4" fill="#ef5350"/>
<rect x="846" y="356" width="1" height="11" fill="#26a69a"/>
<rect x="844" y="356" width="5" height="10" fill="#26a69a"/>
<rect x="852" y="342" width="1" height="16" fill="#26a69a"/>
<rect x="850" y="343" width="5" height="14" fill="#26a69a"/>
<rect x="859" y="329" width="1" height="18" fill="#26a69a"/>
<rect x="857" y="329" width="5" height="15" fill="#26a69a"/>
<rect x="865" y="316" width="1" height="14" fill="#26a69a"/>
<rect x="863" y="324" width="5" height="6" fill="#26a69a"/>
<rect x="871" y="303" width="1" height="22" fill="#26a69a"/>
<rect x="869" y="313" width="5" height="12" fill="#26a69a"/>
<rect x="877" y="301" width="1" height="13" fill="#26a69a"/>
<rect x="875" y="303" width="5" height="11" fill="#26a69a"/>
<rect x="883" y="300" width="1" height="11" fill="#ef5350"/>
<rect x="881" y="303" width="5" height="2" fill="#ef5350"/>
<rect x="890" y="303" width="1" height="25" fill="#ef5350"/>
<rect x="888" y="304" width="5" height="17" fill="#ef5350"/>
<rect x="896" y="316" width="1" height="13" fill="#ef5350"/>
<rect x="894" y="320" width="5" height="3" fill="#ef5350"/>
<rect x="902" y="315" width="1" height="14" fill="#26a69a"/>
<rect x="900" y="316" width="5" height="7" fill="#26a69a"/>
<rect x="908" y="309" width="1" height="11" fill="#26a69a"/>
<rect x="906" y="311" width="5" height="6" fill="#26a69a"/>
<rect x="915" y="307" width="1" height="11" fill="#ef5350"/>
<rect x="913" y="311" width="5" height="4" fill="#ef5350"/>
<rect x="921" y="298" width="1" height="17" fill="#26a69a"/>
<rect x="919" y="302" width="5" height="13" fill="#26a69a"/>
<rect x="927" y="297" width="1" height="10" fill="#ef5350"/>
<rect x="925" y="302" width="5" height="3" fill="#ef5350"/>
<rect x="933" y="303" width="1" height="12" fill="#ef5350"/>
<rect x="931" y="304" width="5" height="9" fill="#ef5350"/>
<rect x="940" y="311" width="1" height="13" fill="#ef5350"/>
<rect x="938" y="312" width="5" height="8" fill="#ef5350"/>
<rect x="946" y="312" width="1" height="11" fill="#26a69a"/>
<rect x="944" y="314" width="5" height="6" fill="#26a69a"/>
<rect x="952" y="310" width="1" height="10" fill="#26a69a"/>
<rect x="950" y="313" width="5" height="2" fill="#26a69a"/>
<rect x="958" y="311" width="1" height="10" fill="#ef5350"/>
<rect x="956" y="313" width="5" height="8" fill="#ef5350"/>
<rect x="964" y="319" width="1" height="13" fill="#ef5350"/>
<rect x="962" y="320" width="5" height="7" fill="#ef5350"/>
<rect x="971" y="326" width="1" height="21" fill="#ef5350"/>
<rect x="969" y="326" width="5" height="18" fill="#ef5350"/>
<rect x="977" y="335" width="1" height="10" fill="#26a69a"/>
<rect x="975" y="337" width="5" height="7" fill="#26a69a"/>
<rect x="983" y="334" width="1" height="10" fill="#ef5350"/>
<rect x="981" y="337" width="5" height="7" fill="#ef5350"/>
<rect x="989" y="338" width="1" height="8" fill="#ef5350"/>
<rect x="987" y="343" width="5" height="2" fill="#ef5350"/>
<rect x="996" y="341" width="1" height="5" fill="#26a69a"/>
<rect x="994" y="342" width="5" height="3" fill="#26a69a"/>
<rect x="1002" y="340" width="1" height="12" fill="#ef5350"/>
<rect x="1000" y="342" width="5" height="7" fill="#ef5350"/>
<rect x="1008" y="346" width="1" height="5" fill="#ef5350"/>
<rect x="1006" y="348" width="5" height="3" fill="#ef5350"/>
<rect x="1014" y="336" width="1" height="15" fill="#26a69a"/>
<rect x="1012" y="337" width="5" height="14" fill="#26a69a"/>
<rect x="1021" y="334" width="1" height="6" fill="#26a69a"/>
<rect x="1019" y="337" width="5" height="1" fill="#26a69a"/>
<rect x="1027" y="329" width="1" height="15" fill="#26a69a"/>
<rect x="1025" y="330" width="5" height="8" fill="#26a69a"/>
<rect x="1033" y="327" width="1" height="5" fill="#26a69a"/>
<rect x="1031" y="329" width="5" height="1" fill="#26a69a"/>
<rect x="1039" y="328" width="1" height="5" fill="#ef5350"/>
<rect x="1037" y="329" width="5" height="3" fill="#ef5350"/>
<rect x="1045" y="326" width="1" height="9" fill="#26a69a"/>
<rect x="1043" y="327" width="5" height="5" fill="#26a69a"/>
<rect x="1052" y="326" width="1" height="4" fill="#ef5350"/>
<rect x="1050" y="327" width="5" height="3" fill="#ef5350"/>
<rect x="1058" y="328" width="1" height="6" fill="#ef5350"/>
<rect x="1056" y="329" width="5" height="5" fill="#ef5350"/>
<rect x="1064" y="331" width="1" height="4" fill="#26a69a"/>
<rect x="1062" y="332" width="5" height="2" fill="#26a69a"/>
<rect x="1070" y="322" width="1" height="11" fill="#26a69a"/>
<rect x="1068" y="323" width="5" height="10" fill="#26a69a"/>
<rect x="1077" y="319" width="1" height="5" fill="#26a69a"/>
<rect x="1075" y="319" width="5" height="5" fill="#26a69a"/>
<rect x="1083" y="313" width="1" height="7" fill="#26a69a"/>
<rect x="1081" y="315" width="5" height="5" fill="#26a69a"/>
<rect x="1089" y="310" width="1" height="9" fill="#26a69a"/>
<rect x="1087" y="315" width="5" height="1" fill="#26a69a"/>
<rect x="1095" y="300" width="1" height="16" fill="#26a69a"/>
<rect x="1093" y="302" width="5" height="14" fill="#26a69a"/>
<rect x="1101" y="295" width="1" height="8" fill="#26a69a"/>
<rect x="1099" y="296" width="5" height="7" fill="#26a69a"/>
<rect x="1108" y="295" width="1" height="8" fill="#ef5350"/>
<rect x="1106" y="296" width="5" height="7" fill="#ef5350"/>
<rect x="1114" y="299" width="1" height="6" fill="#26a69a"/>
<rect x="1112" y="301" width="5" height="1" fill="#26a69a"/>
</g>
<path d="M1 301.5H1478" stroke="#26a69a" stroke-width="1" stroke-dasharray="1 2" shape-rendering="crispEdges"/>
<rect x="0" y="4" width="722" height="23.6" fill="#181c27" fill-opacity="0.5"/>
<g fill="#d1d4dc"><path d="M9.8 772H22.1V787.1H15.8V778.1H9.8Z"/><circle cx="27" cy="775" r="3.1"/><path d="M33.1 772H40L33.8 787.1H27.1Z"/></g>
</g>
<circle cx="16" cy="16" r="9" fill="#f7931a"/>
<text x="16" y="19.9" font-size="10.8" font-weight="700" fill="#ffffff" text-anchor="middle" transform="rotate(14 16 16)">₿</text>
<g font-size="15.3" fill="#d1d4dc" font-weight="400" stroke="#d1d4dc" stroke-width="0.4"><text transform="translate(29.40 22.0) scale(1.0475 1)">Bitcoin</text><text transform="translate(82.16 22.0) scale(1.0364 1)">Liquid</text><text transform="translate(129.14 22.0) scale(1.0030 1)">Index</text><text transform="translate(171.33 22.0) scale(1.1142 1)">·</text><text transform="translate(181.67 22.0) scale(0.8973 1)">1M</text><text transform="translate(205.39 22.0) scale(1.1142 1)">·</text><text transform="translate(215.73 22.0) scale(0.8629 1)">BNC</text></g>
<path d="M256 10H268.3L264.6 16L268.3 22H256Z" fill="#2979ff"/>
<path d="M296 7H307V25H296A9 9 0 0 1 296 7Z" fill="#1b3339"/><path d="M307 7H318A9 9 0 0 1 318 25H307Z" fill="#4e2b62"/>
<circle cx="298" cy="16" r="4" fill="#0f9d83"/>
<g font-size="12" fill="#8a25b0" font-weight="700" stroke="#8a25b0" stroke-width="0.3"><text transform="translate(312.78 20.3) scale(0.8036 1)">E</text></g>
<g font-size="12.6" fill="#d1d4dc" font-weight="400" stroke="#d1d4dc" stroke-width="0.4"><text transform="translate(342.80 21.0) scale(0.8665 1)">O</text></g>
<g font-size="12.6" fill="#26a69a" font-weight="400" stroke="#26a69a" stroke-width="0.4"><text transform="translate(352.30 21.0) scale(0.9933 1)">60651.54</text></g>
<g font-size="12.6" fill="#d1d4dc" font-weight="400" stroke="#d1d4dc" stroke-width="0.4"><text transform="translate(410.90 21.0) scale(0.9056 1)">H</text></g>
<g font-size="12.6" fill="#26a69a" font-weight="400" stroke="#26a69a" stroke-width="0.4"><text transform="translate(419.70 21.0) scale(0.9914 1)">65509.82</text></g>
<g font-size="12.6" fill="#d1d4dc" font-weight="400" stroke="#d1d4dc" stroke-width="0.4"><text transform="translate(478.90 21.0) scale(0.9098 1)">L</text></g>
<g font-size="12.6" fill="#26a69a" font-weight="400" stroke="#26a69a" stroke-width="0.4"><text transform="translate(486.20 21.0) scale(0.9857 1)">56620.78</text></g>
<g font-size="12.6" fill="#d1d4dc" font-weight="400" stroke="#d1d4dc" stroke-width="0.4"><text transform="translate(545.10 21.0) scale(0.8281 1)">C</text></g>
<g font-size="12.6" fill="#26a69a" font-weight="400" stroke="#26a69a" stroke-width="0.4"><text transform="translate(553.90 21.0) scale(0.9800 1)">62937.07</text></g>
<g font-size="12.6" fill="#26a69a" font-weight="400" stroke="#26a69a" stroke-width="0.4"><text transform="translate(613.10 21.0) scale(0.9564 1)">+2289.43</text></g>
<g font-size="12.6" fill="#26a69a" font-weight="400" stroke="#26a69a" stroke-width="0.4"><text transform="translate(670.50 21.0) scale(0.9072 1)">(+3.77%)</text></g>
<rect x="6.5" y="32.5" width="68" height="23" rx="4" fill="none" stroke="#f23645"/>
<g font-size="12.6" fill="#f23645" font-weight="400" stroke="#f23645" stroke-width="0.4"><text transform="translate(14.30 49.0) scale(0.9933 1)">62937.07</text></g>
<g font-size="12.6" fill="#d1d4dc" font-weight="400" stroke="#d1d4dc" stroke-width="0.4"><text transform="translate(82.40 49.0) scale(0.8767 1)">0.00</text></g>
<rect x="112.5" y="32.5" width="67" height="23" rx="4" fill="none" stroke="#2962ff"/>
<g font-size="12.6" fill="#2962ff" font-weight="400" stroke="#2962ff" stroke-width="0.4"><text transform="translate(119.60 49.0) scale(1.0009 1)">62937.07</text></g>
<rect x="7.5" y="62.5" width="31" height="20" rx="3" fill="none" stroke="#363a45"/>
<path d="M13.3 70.6L17.4 74.4L21.5 70.6" fill="none" stroke="#d1d4dc" stroke-width="1.3"/>
<g font-size="12.6" fill="#d1d4dc" font-weight="400" stroke="#d1d4dc" stroke-width="0.4"><text transform="translate(27.10 77.0) scale(0.9422 1)">2</text></g>
<rect x="1478" y="0" width="93" height="801" fill="url(#bgg)"/>
<g shape-rendering="crispEdges" fill="#2a2e39"><rect x="1478" y="0" width="1" height="829"/><rect x="0" y="801" width="1571" height="1"/><rect x="0" y="829" width="1571" height="1"/><rect x="1570" y="0" width="1" height="834" fill="#222632"/></g>
<g font-size="12" fill="#b2b5be" font-weight="400" stroke="#b2b5be" stroke-width="0.3"><text transform="translate(1486.20 38.1) scale(0.9519 1)">90000000.00</text></g>
<g font-size="12" fill="#b2b5be" font-weight="400" stroke="#b2b5be" stroke-width="0.3"><text transform="translate(1486.20 70.1) scale(0.9519 1)">38000000.00</text></g>
<g font-size="12" fill="#b2b5be" font-weight="400" stroke="#b2b5be" stroke-width="0.3"><text transform="translate(1486.20 102.1) scale(0.9519 1)">16000000.00</text></g>
<g font-size="12" fill="#b2b5be" font-weight="400" stroke="#b2b5be" stroke-width="0.3"><text transform="translate(1486.20 132.1) scale(0.9527 1)">7000000.00</text></g>
<g font-size="12" fill="#b2b5be" font-weight="400" stroke="#b2b5be" stroke-width="0.3"><text transform="translate(1486.20 163.1) scale(0.9527 1)">3000000.00</text></g>
<g font-size="12" fill="#b2b5be" font-weight="400" stroke="#b2b5be" stroke-width="0.3"><text transform="translate(1486.20 197.1) scale(0.9527 1)">1200000.00</text></g>
<g font-size="12" fill="#b2b5be" font-weight="400" stroke="#b2b5be" stroke-width="0.3"><text transform="translate(1486.20 229.1) scale(0.9537 1)">500000.00</text></g>
<g font-size="12" fill="#b2b5be" font-weight="400" stroke="#b2b5be" stroke-width="0.3"><text transform="translate(1486.20 259.1) scale(0.9537 1)">220000.00</text></g>
<g font-size="12" fill="#b2b5be" font-weight="400" stroke="#b2b5be" stroke-width="0.3"><text transform="translate(1486.20 292.1) scale(0.9550 1)">90000.00</text></g>
<g font-size="12" fill="#b2b5be" font-weight="400" stroke="#b2b5be" stroke-width="0.3"><text transform="translate(1486.20 324.1) scale(0.9550 1)">38000.00</text></g>
<g font-size="12" fill="#b2b5be" font-weight="400" stroke="#b2b5be" stroke-width="0.3"><text transform="translate(1486.20 355.1) scale(0.9550 1)">16000.00</text></g>
<g font-size="12" fill="#b2b5be" font-weight="400" stroke="#b2b5be" stroke-width="0.3"><text transform="translate(1486.20 386.1) scale(0.9567 1)">7000.00</text></g>
<g font-size="12" fill="#b2b5be" font-weight="400" stroke="#b2b5be" stroke-width="0.3"><text transform="translate(1486.20 417.1) scale(0.9567 1)">3000.00</text></g>
<g font-size="12" fill="#b2b5be" font-weight="400" stroke="#b2b5be" stroke-width="0.3"><text transform="translate(1486.20 451.1) scale(0.9567 1)">1200.00</text></g>
<g font-size="12" fill="#b2b5be" font-weight="400" stroke="#b2b5be" stroke-width="0.3"><text transform="translate(1486.20 483.1) scale(0.9590 1)">500.00</text></g>
<g font-size="12" fill="#b2b5be" font-weight="400" stroke="#b2b5be" stroke-width="0.3"><text transform="translate(1486.20 513.1) scale(0.9590 1)">220.00</text></g>
<g font-size="12" fill="#b2b5be" font-weight="400" stroke="#b2b5be" stroke-width="0.3"><text transform="translate(1486.20 546.1) scale(0.9624 1)">90.00</text></g>
<g font-size="12" fill="#b2b5be" font-weight="400" stroke="#b2b5be" stroke-width="0.3"><text transform="translate(1486.20 577.1) scale(0.9624 1)">38.00</text></g>
<g font-size="12" fill="#b2b5be" font-weight="400" stroke="#b2b5be" stroke-width="0.3"><text transform="translate(1486.20 609.1) scale(0.9624 1)">16.00</text></g>
<g font-size="12" fill="#b2b5be" font-weight="400" stroke="#b2b5be" stroke-width="0.3"><text transform="translate(1486.20 640.1) scale(0.9677 1)">7.00</text></g>
<g font-size="12" fill="#b2b5be" font-weight="400" stroke="#b2b5be" stroke-width="0.3"><text transform="translate(1486.20 671.1) scale(0.9677 1)">3.00</text></g>
<g font-size="12" fill="#b2b5be" font-weight="400" stroke="#b2b5be" stroke-width="0.3"><text transform="translate(1486.20 704.1) scale(0.9677 1)">1.20</text></g>
<g font-size="12" fill="#b2b5be" font-weight="400" stroke="#b2b5be" stroke-width="0.3"><text transform="translate(1486.20 736.1) scale(0.9677 1)">0.50</text></g>
<g font-size="12" fill="#b2b5be" font-weight="400" stroke="#b2b5be" stroke-width="0.3"><text transform="translate(1486.20 767.1) scale(0.9677 1)">0.22</text></g>
<g font-size="12" fill="#b2b5be" font-weight="400" stroke="#b2b5be" stroke-width="0.3"><text transform="translate(1486.20 799.1) scale(0.9677 1)">0.09</text></g>
<rect x="1479" y="0" width="91" height="33" fill="url(#bgg)"/>
<rect x="1482.5" y="4.5" width="83" height="25" rx="4.5" fill="url(#bgg)" stroke="#50535e"/>
<g font-size="12" fill="#d1d4dc" font-weight="400" stroke="#d1d4dc" stroke-width="0.3"><text transform="translate(1486.00 21.0) scale(0.8833 1)">BTC</text></g>
<path d="M1555.4 15.9L1558.4 18.7L1561.4 15.9" fill="none" stroke="#d1d4dc" stroke-width="1.3"/>
<path d="M1478 230H1544a2 2 0 0 1 2 2V245a2 2 0 0 1 -2 2H1478Z" fill="#f23645"/>
<g font-size="12" fill="#ffffff" font-weight="400" stroke="#ffffff" stroke-width="0.3"><text transform="translate(1486.20 242.8) scale(0.9537 1)">350000.00</text></g>
<path d="M1478 293H1538a2 2 0 0 1 2 2V308a2 2 0 0 1 -2 2H1478Z" fill="#26a69a"/>
<g font-size="12" fill="#ffffff" font-weight="400" stroke="#ffffff" stroke-width="0.3"><text transform="translate(1486.20 305.8) scale(0.9550 1)">62937.07</text></g>
<g font-size="12" fill="#b2b5be" font-weight="700"><text transform="translate(103.79 818.7) scale(1.0270 1)">2011</text></g>
<g font-size="12" fill="#b2b5be" font-weight="700"><text transform="translate(253.79 818.7) scale(1.0270 1)">2013</text></g>
<g font-size="12" fill="#b2b5be" font-weight="700"><text transform="translate(402.79 818.7) scale(1.0270 1)">2015</text></g>
<g font-size="12" fill="#b2b5be" font-weight="700"><text transform="translate(552.79 818.7) scale(1.0270 1)">2017</text></g>
<g font-size="12" fill="#b2b5be" font-weight="700"><text transform="translate(701.79 818.7) scale(1.0270 1)">2019</text></g>
<g font-size="12" fill="#b2b5be" font-weight="700"><text transform="translate(851.79 818.7) scale(1.0270 1)">2021</text></g>
<g font-size="12" fill="#b2b5be" font-weight="700"><text transform="translate(1000.79 818.7) scale(1.0270 1)">2023</text></g>
<g font-size="12" fill="#b2b5be" font-weight="700"><text transform="translate(1150.79 818.7) scale(1.0270 1)">2025</text></g>
<g font-size="12" fill="#b2b5be" font-weight="700"><text transform="translate(1299.79 818.7) scale(1.0270 1)">2027</text></g>
<g font-size="12" fill="#b2b5be" font-weight="700"><text transform="translate(1449.79 818.7) scale(1.0270 1)">2029</text></g>
<path d="M207 801H303V823a2 2 0 0 1 -2 2H209a2 2 0 0 1 -2 -2Z" fill="#ffeb3b"/>
<g font-size="12" fill="#131722" font-weight="400"><text transform="translate(215.90 820.0) scale(0.9664 1)">Thu</text><text transform="translate(239.48 820.0) scale(0.9378 1)">01</text><text transform="translate(255.59 820.0) scale(0.9319 1)">Nov</text><text transform="translate(279.07 820.0) scale(0.9226 1)">'12</text></g>
<path d="M486 801H572V823a2 2 0 0 1 -2 2H488a2 2 0 0 1 -2 -2Z" fill="#ffeb3b"/>
<g font-size="12" fill="#131722" font-weight="400"><text transform="translate(494.90 820.0) scale(1.0207 1)">Fri</text><text transform="translate(512.77 820.0) scale(0.9353 1)">01</text><text transform="translate(528.84 820.0) scale(1.0227 1)">Jul</text><text transform="translate(548.11 820.0) scale(0.9201 1)">'16</text></g>
<path d="M770 801H861V823a2 2 0 0 1 -2 2H772a2 2 0 0 1 -2 -2Z" fill="#ffeb3b"/>
<g font-size="12" fill="#131722" font-weight="400"><text transform="translate(778.60 820.0) scale(1.0308 1)">Fri</text><text transform="translate(796.64 820.0) scale(0.9445 1)">01</text><text transform="translate(812.87 820.0) scale(0.9164 1)">May</text><text transform="translate(837.27 820.0) scale(0.9292 1)">'20</text></g>
<path d="M1060 801H1156V823a2 2 0 0 1 -2 2H1062a2 2 0 0 1 -2 -2Z" fill="#ffeb3b"/>
<g font-size="12" fill="#131722" font-weight="400"><text transform="translate(1068.75 820.0) scale(0.9219 1)">Mon</text><text transform="translate(1093.88 820.0) scale(0.9429 1)">01</text><text transform="translate(1110.08 820.0) scale(0.9878 1)">Apr</text><text transform="translate(1132.14 820.0) scale(0.9276 1)">'24</text></g>
<path d="M1352 801H1450V823a2 2 0 0 1 -2 2H1354a2 2 0 0 1 -2 -2Z" fill="#ffeb3b"/>
<g font-size="12" fill="#131722" font-weight="400"><text transform="translate(1360.60 820.0) scale(0.9429 1)">Wed</text><text transform="translate(1387.45 820.0) scale(0.9348 1)">01</text><text transform="translate(1403.51 820.0) scale(0.9350 1)">Mar</text><text transform="translate(1426.42 820.0) scale(0.9197 1)">'28</text></g>
<g fill="none" stroke="#b2b5be" stroke-width="1.2"><path d="M1517.3 815.6L1520.9 809.4H1528.1L1531.7 815.6L1528.1 821.8H1520.9Z"/><circle cx="1524.5" cy="815.6" r="2.2"/></g>
</svg></body></html>
